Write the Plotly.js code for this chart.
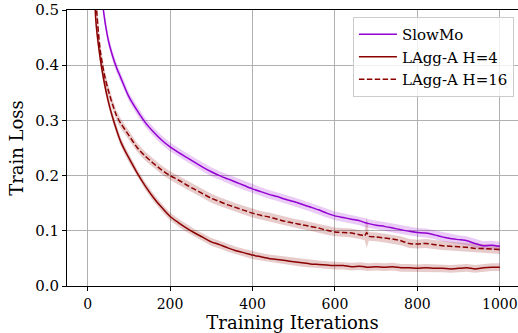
<!DOCTYPE html>
<html>
<head>
<meta charset="utf-8">
<script src="https://cdn.plot.ly/plotly-3.0.1.min.js"></script>
<style>
html,body{margin:0;padding:0;background:#fff;}
#chart{width:518px;height:333px;}
</style>
</head>
<body>
<div id="chart"></div>
<script>
// Training iterations (x)
var iters = [0,10,20,30,40,50,60,70,80,90,100,
  120,140,160,180,200,220,240,260,280,300,320,340,360,380,400,420,440,460,480,500,520,540,560,580,600,620,640,660,
  672,677,682,
  700,720,740,760,780,800,820,840,860,880,900,920,940,960,980,1000];

var seriesNames = ["SlowMo", "LAgg-A H=4", "LAgg-A H=16"];

var lossSlowMo = [1.10,0.85,0.68,0.56,0.49,0.446,0.418,0.396,0.378,0.360,0.343,
  0.318,0.296,0.279,0.264,0.252,0.242,0.233,0.224,0.215,0.207,0.200,0.194,0.188,0.182,0.176,0.171,0.166,0.162,0.157,0.153,0.148,0.143,0.138,0.132,0.127,0.124,0.121,0.118,
  0.115,0.114,0.113,
  0.110,0.108,0.105,0.102,0.099,0.097,0.096,0.093,0.089,0.086,0.084,0.082,0.077,0.073,0.074,0.072];

var lossH4 = [1.10,0.70,0.48,0.415,0.37,0.335,0.307,0.283,0.262,0.246,0.232,
  0.205,0.181,0.160,0.142,0.126,0.115,0.105,0.096,0.088,0.080,0.075,0.069,0.064,0.060,0.056,0.053,0.050,0.048,0.046,0.044,0.042,0.040,0.039,0.038,0.037,0.037,0.035,0.036,
  0.035,0.034,0.034,
  0.035,0.034,0.035,0.033,0.033,0.032,0.033,0.032,0.032,0.031,0.032,0.033,0.031,0.033,0.034,0.034];

var lossH16 = [1.10,0.75,0.52,0.43,0.385,0.355,0.330,0.309,0.295,0.284,0.273,
  0.251,0.235,0.222,0.210,0.200,0.192,0.183,0.175,0.167,0.159,0.153,0.147,0.142,0.137,0.132,0.128,0.125,0.121,0.117,0.114,0.111,0.108,0.105,0.101,0.098,0.097,0.096,0.093,
  0.091,0.097,0.090,
  0.089,0.087,0.085,0.082,0.077,0.076,0.077,0.075,0.073,0.072,0.071,0.070,0.068,0.068,0.067,0.066];

// half-width of the shaded bands
var spreadSlowMo = [0.02,0.02,0.016,0.013,0.011,0.010,0.009,0.009,0.009,0.008,0.008,
  0.008,0.008,0.008,0.008,0.008,0.008,0.008,0.008,0.008,0.008,0.008,0.008,0.008,0.008,0.008,0.008,0.008,0.008,0.008,0.008,0.008,0.008,0.008,0.008,0.008,0.008,0.008,0.008,
  0.008,0.008,0.008,
  0.008,0.008,0.008,0.008,0.008,0.008,0.008,0.008,0.008,0.008,0.008,0.008,0.008,0.008,0.008,0.008];

var spreadH4 = [0.02,0.018,0.015,0.012,0.010,0.009,0.009,0.008,0.008,0.008,0.008,
  0.007,0.007,0.007,0.007,0.007,0.007,0.007,0.007,0.007,0.007,0.007,0.007,0.007,0.007,0.007,0.007,0.007,0.007,0.007,0.007,0.007,0.007,0.007,0.007,0.007,0.007,0.007,0.007,
  0.007,0.007,0.007,
  0.007,0.007,0.007,0.007,0.007,0.007,0.007,0.007,0.007,0.007,0.007,0.007,0.007,0.007,0.007,0.007];

var spreadH16 = [0.02,0.018,0.015,0.013,0.011,0.010,0.010,0.009,0.009,0.009,0.009,
  0.008,0.008,0.008,0.008,0.008,0.008,0.008,0.008,0.008,0.008,0.008,0.008,0.008,0.008,0.008,0.008,0.008,0.008,0.008,0.008,0.008,0.008,0.008,0.008,0.008,0.008,0.008,0.008,
  0.008,0.028,0.008,
  0.008,0.008,0.008,0.008,0.008,0.008,0.008,0.008,0.008,0.008,0.008,0.008,0.008,0.008,0.008,0.008];

var xTicks = [0,200,400,600,800,1000];
var yTicks = [0.0,0.1,0.2,0.3,0.4,0.5];

var purple = "#9400D3";
var darkred = "#8B0000";
var font = "DejaVu Serif";

function band(x, y, s, fillcolor) {
  var up = [], lo = [];
  for (var i = 0; i < y.length; i++) { up.push(y[i] + s[i]); lo.push(y[i] - s[i]); }
  return {
    x: x.concat(x.slice().reverse()),
    y: up.concat(lo.slice().reverse()),
    type: "scatter", mode: "lines", fill: "toself",
    fillcolor: fillcolor, line: {width: 0, color: "rgba(0,0,0,0)"},
    hoverinfo: "skip", showlegend: false
  };
}

var data = [
  band(iters, lossSlowMo, spreadSlowMo, "rgba(148,0,211,0.2)"),
  band(iters, lossH4, spreadH4, "rgba(139,0,0,0.2)"),
  band(iters, lossH16, spreadH16, "rgba(139,0,0,0.2)"),
  {x: iters, y: lossSlowMo, name: seriesNames[0], type: "scatter", mode: "lines",
   line: {color: purple, width: 1.5, shape: "spline", smoothing: 0.6}},
  {x: iters, y: lossH4, name: seriesNames[1], type: "scatter", mode: "lines",
   line: {color: darkred, width: 1.5, shape: "spline", smoothing: 0.6}},
  {x: iters, y: lossH16, name: seriesNames[2], type: "scatter", mode: "lines",
   line: {color: darkred, width: 1.5, dash: "5.5px,2.4px", shape: "spline", smoothing: 0.6}}
];

var layout = {
  width: 518, height: 333,
  margin: {l: 67, r: 0, t: 10, b: 47},
  paper_bgcolor: "#fff", plot_bgcolor: "#fff",
  font: {family: font, size: 15, color: "#000"},
  showlegend: true,
  legend: {
    x: 0.634, y: 0.975, xanchor: "left", yanchor: "top",
    bgcolor: "rgba(255,255,255,0.8)", bordercolor: "#cccccc", borderwidth: 1,
    font: {family: font, size: 15, color: "#000"},
    itemwidth: 38, tracegroupgap: 0
  },
  xaxis: {
    range: [-50, 1044], tickvals: xTicks, ticktext: xTicks.map(String),
    ticklabeloverflow: "allow", ticklabelstandoff: 1,
    showgrid: true, gridcolor: "#b0b0b0", gridwidth: 1,
    zeroline: false, showline: true, linecolor: "#000", linewidth: 1, mirror: true,
    ticks: "outside", ticklen: 4, tickwidth: 1, tickcolor: "#000",
    tickfont: {family: font, size: 14, color: "#000"},
    title: {text: "Training Iterations", font: {family: font, size: 18, color: "#000"}, standoff: 2}
  },
  yaxis: {
    range: [0, 0.5], tickvals: yTicks, ticktext: yTicks.map(function(v){return v.toFixed(1);}),
    showgrid: true, gridcolor: "#b0b0b0", gridwidth: 1,
    zeroline: false, showline: true, linecolor: "#000", linewidth: 1, mirror: false,
    ticks: "outside", ticklen: 4, tickwidth: 1, tickcolor: "#000",
    tickfont: {family: font, size: 15, color: "#000"},
    title: {text: "Train Loss", font: {family: font, size: 18, color: "#000"}, standoff: 6}
  }
};

Plotly.newPlot("chart", data, layout, {displayModeBar: false, staticPlot: true});
</script>
</body>
</html>
